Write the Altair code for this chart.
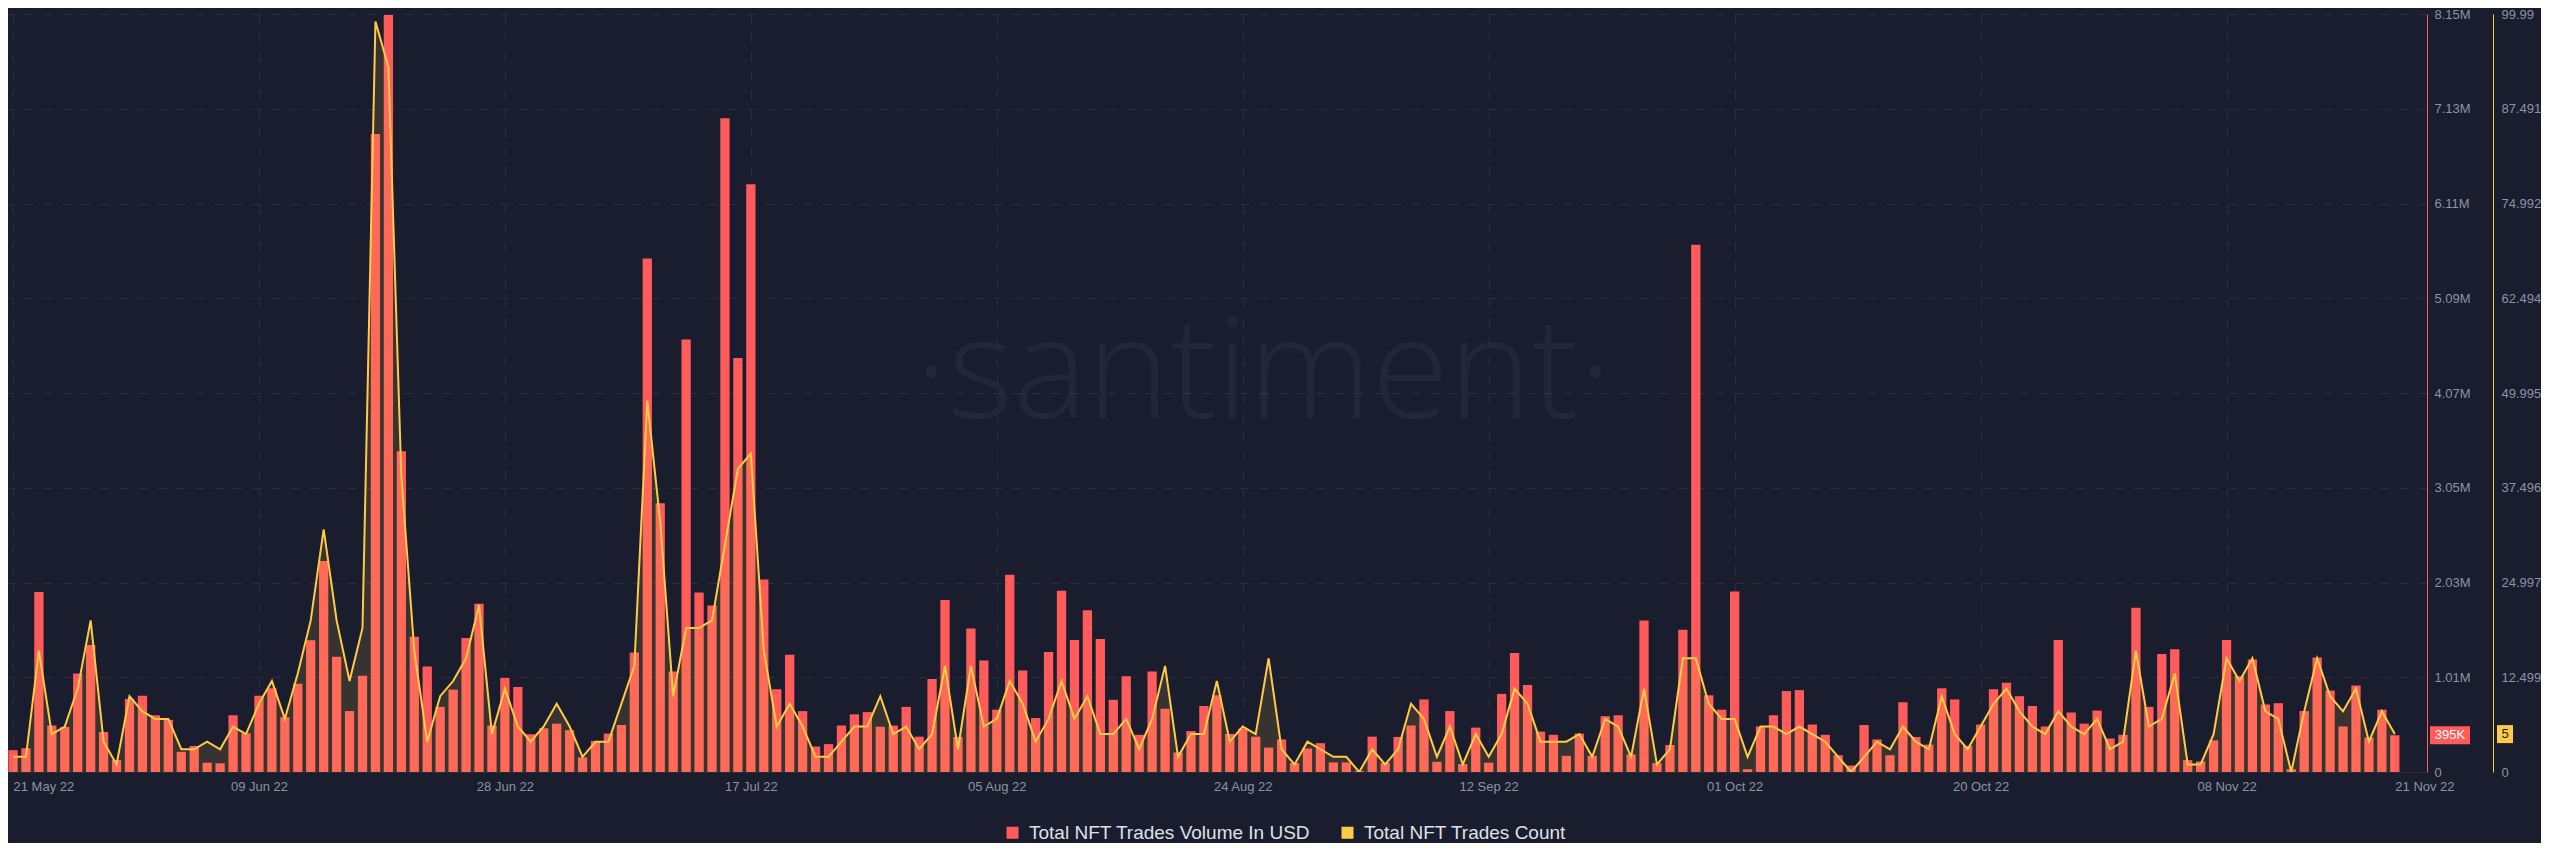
import pandas as pd
import altair as alt

# Santiment-style NFT trades chart: daily volume (bars) + trade count (line)
start_date = "2022-05-21"

# daily volume in millions of USD, 21 May 22 .. 21 Nov 22
volume_musd = [
    0.235, 0.256, 1.935, 0.50, 0.484, 1.06, 1.366, 0.43, 0.128, 0.786,
    0.82, 0.61, 0.56, 0.217, 0.28, 0.10, 0.093, 0.61, 0.416, 0.82,
    0.90, 0.59, 0.95, 1.416, 2.27, 1.24, 0.655, 1.035, 6.86, 8.14,
    3.45, 1.455, 1.135, 0.70, 0.886, 1.44, 1.81, 0.50, 1.01, 0.914,
    0.406, 0.47, 0.52, 0.45, 0.157, 0.334, 0.413, 0.505, 1.284, 5.52,
    2.89, 1.08, 4.65, 1.93, 1.79, 7.03, 4.45, 6.32, 2.07, 0.89,
    1.26, 0.655, 0.274, 0.30, 0.50, 0.62, 0.644, 0.487, 0.50, 0.70,
    0.38, 1.00, 1.85, 0.377, 1.544, 1.20, 0.67, 2.12, 1.09, 0.58,
    1.29, 1.95, 1.42, 1.74, 1.43, 0.776, 1.03, 0.40, 1.08, 0.68,
    0.21, 0.44, 0.71, 0.825, 0.41, 0.466, 0.38, 0.263, 0.35, 0.096,
    0.253, 0.31, 0.103, 0.103, 0.01, 0.38, 0.10, 0.377, 0.50, 0.78,
    0.11, 0.655, 0.085, 0.477, 0.10, 0.84, 1.28, 0.936, 0.434, 0.40,
    0.174, 0.413, 0.174, 0.60, 0.61, 0.19, 1.63, 0.096, 0.29, 1.53,
    5.67, 0.825, 0.67, 1.94, 0.03, 0.49, 0.61, 0.87, 0.88, 0.51,
    0.40, 0.18, 0.07, 0.505, 0.35, 0.18, 0.75, 0.377, 0.295, 0.90,
    0.78, 0.28, 0.51, 0.89, 0.96, 0.815, 0.71, 0.49, 1.42, 0.64,
    0.52, 0.66, 0.36, 0.40, 1.765, 0.70, 1.27, 1.32, 0.128, 0.114,
    0.34, 1.42, 1.03, 1.21, 0.726, 0.74, 0.03, 0.655, 1.23, 0.875,
    0.49, 0.93, 0.37, 0.67, 0.395,
]

# daily number of trades
trade_count = [
    2, 2, 16, 5, 6, 11, 20, 4, 1, 10,
    8, 7, 7, 3, 3, 4, 3, 6, 5, 9,
    12, 7, 13, 20, 32, 20, 12, 19, 99, 93,
    39, 16, 4, 10, 12, 15, 22, 5, 11, 6,
    4, 6, 9, 6, 2, 4, 4, 9, 14, 49,
    33, 10, 19, 19, 20, 30, 40, 42, 16, 6,
    9, 6, 2, 2, 4, 6, 6, 10, 5, 6,
    3, 5, 14, 3, 14, 6, 7, 12, 9, 4,
    7, 12, 7, 10, 5, 5, 7, 3, 7, 14,
    2, 5, 5, 12, 4, 6, 5, 15, 3, 1,
    4, 3, 2, 2, 0, 3, 1, 3, 9, 7,
    2, 6, 1, 5, 2, 5, 11, 9, 4, 4,
    4, 5, 2, 7, 6, 2, 11, 1, 3, 15,
    15, 9, 7, 7, 2, 6, 6, 5, 6, 5,
    4, 2, 0, 2, 4, 3, 6, 4, 3, 10,
    5, 3, 6, 9, 11, 8, 6, 5, 8, 6,
    5, 7, 3, 4, 16, 6, 7, 13, 1, 1,
    5, 15, 12, 15, 8, 7, 0, 8, 15, 10,
    8, 11, 4, 8, 5,
]

x_tick_dates = ["2022-05-21", "2022-06-09", "2022-06-28", "2022-07-17", "2022-08-05",
                "2022-08-24", "2022-09-12", "2022-10-01", "2022-10-20", "2022-11-08",
                "2022-11-21"]
vol_tick_labels = ["0", "1.01M", "2.03M", "3.05M", "4.07M", "5.09M", "6.11M", "7.13M", "8.15M"]
cnt_tick_labels = ["0", "12.499", "24.997", "37.496", "49.995", "62.494", "74.992", "87.491", "99.99"]
vol_max = 8.15e6
cnt_max = 99.99

vol_name = "Total NFT Trades Volume In USD"
cnt_name = "Total NFT Trades Count"

RED = "#ff5b5b"
YELLOW = "#ffcb47"
BG = "#1a1d2d"
GRID = "#2a2e40"
LABEL = "#8d93a5"
FONT = "Liberation Sans"
DAY = 86400000


def ms(s):
    return int(pd.Timestamp(s, tz="UTC").timestamp() * 1000)


t0 = ms(start_date)
df = pd.DataFrame({
    "t": [t0 + i * DAY for i in range(len(volume_musd))],
    "volume": [v * 1e6 for v in volume_musd],
    "count": trade_count,
    "series": vol_name,
})

last = df.iloc[-1]
badge = pd.DataFrame({
    "volume": [last["volume"]],
    "count": [last["count"]],
    "vol_txt": [f"{round(last['volume'] / 1000)}K"],
    "cnt_txt": [str(int(last["count"]))],
})

tick_ms = [ms(d) for d in x_tick_dates]
edge_test = f"datum.value < {tick_ms[0] + DAY} || datum.value > {tick_ms[-2] + DAY}"

x_enc = alt.X(
    "t:T",
    title=None,
    scale=alt.Scale(type="utc", domain=[t0, t0 + int(186.1 * DAY)]),
    axis=alt.Axis(
        values=tick_ms,
        labelExpr="utcFormat(datum.value, '%d %b %y')",
        labelAlign={"condition": {"test": edge_test, "value": "left"}, "value": "center"},
        gridOpacity={"condition": {"test": f"datum.value > {tick_ms[-2] + DAY}", "value": 0}, "value": 1},
        grid=True, gridColor=GRID, gridDash=[9, 10],
        ticks=False, labelPadding=8, labelColor=LABEL, labelFontSize=13, labelFont=FONT,
        domainColor="#262a3b",
    ),
)

vol_scale = alt.Scale(domain=[0, vol_max], nice=False, zero=True)
cnt_scale = alt.Scale(domain=[0, cnt_max], nice=False, zero=True)

vol_axis = alt.Axis(
    orient="right", title=None,
    values=[vol_max * i / 8 for i in range(9)],
    labelExpr=f"{vol_tick_labels}[round(datum.value / {vol_max / 8})]",
    grid=True, gridColor=GRID, gridDash=[9, 10],
    ticks=False, domainColor=RED, labelPadding=7,
    labelColor=LABEL, labelFontSize=13, labelFont=FONT,
)
cnt_axis = alt.Axis(
    orient="right", offset=66, title=None,
    values=[cnt_max * i / 8 for i in range(9)],
    labelExpr=f"{cnt_tick_labels}[round(datum.value / {cnt_max / 8})]",
    grid=False, ticks=False, domainColor=YELLOW, labelPadding=8,
    labelColor=LABEL, labelFontSize=13, labelFont=FONT,
)

watermark = alt.Chart(pd.DataFrame({"w": ["·santiment·"]})).mark_text(
    font="Open Sans", fontWeight=300, fontSize=140, color="white", opacity=0.04,
    align="center", baseline="alphabetic",
).encode(x=alt.value(1255), y=alt.value(404), text="w:N")

bars = alt.Chart(df).mark_bar(size=9.3, clip=True).encode(
    x=x_enc,
    y=alt.Y("volume:Q", scale=vol_scale, axis=vol_axis),
    color=alt.Color(
        "series:N",
        scale=alt.Scale(domain=[vol_name, cnt_name], range=[RED, YELLOW]),
        legend=alt.Legend(
            orient="none", legendX=995, legendY=809, direction="horizontal", title=None,
            symbolType="square", symbolSize=144, symbolStrokeWidth=0, symbolOpacity=1,
            labelFontSize=19, labelFont=FONT, labelColor="#dfe1e8", labelLimit=400,
            labelOffset=7, columnPadding=27,
        ),
    ),
)
vol_badge = alt.Chart(badge).mark_point(
    shape="M-1,-0.45L1,-0.45L1,0.45L-1,0.45Z", size=1600, filled=True,
    color=RED, opacity=1, strokeWidth=0,
).encode(x=alt.value(2442), y=alt.Y("volume:Q", scale=vol_scale))
vol_badge_txt = alt.Chart(badge).mark_text(
    color="white", fontSize=13, font=FONT, align="center", baseline="middle",
).encode(x=alt.value(2442), y=alt.Y("volume:Q", scale=vol_scale), text="vol_txt:N")

area = alt.Chart(df).mark_area(color=YELLOW, opacity=0.13, clip=True).encode(
    x=x_enc, y=alt.Y("count:Q", scale=cnt_scale, axis=cnt_axis),
)
line = alt.Chart(df).mark_line(color=YELLOW, strokeWidth=2, clip=True).encode(
    x=x_enc, y=alt.Y("count:Q", scale=cnt_scale),
)
cnt_badge = alt.Chart(badge).mark_point(
    shape="M-0.89,-1L0.89,-1L0.89,1L-0.89,1Z", size=324, filled=True,
    color=YELLOW, opacity=1, strokeWidth=0,
).encode(x=alt.value(2497), y=alt.Y("count:Q", scale=cnt_scale))
cnt_badge_txt = alt.Chart(badge).mark_text(
    color=BG, fontSize=13, font=FONT, align="center", baseline="middle",
).encode(x=alt.value(2497), y=alt.Y("count:Q", scale=cnt_scale), text="cnt_txt:N")

vol_layer = alt.layer(bars, vol_badge, vol_badge_txt)
cnt_layer = alt.layer(area, line, cnt_badge, cnt_badge_txt)

chart = alt.layer(watermark, vol_layer, cnt_layer).resolve_scale(
    y="independent"
).properties(
    width=2419, height=758, background=BG,
    padding={"left": 0, "right": 0, "top": 0, "bottom": 0},
).configure_view(stroke=None)

chart.save("out.html", embed_options={"renderer": "svg", "actions": False})
